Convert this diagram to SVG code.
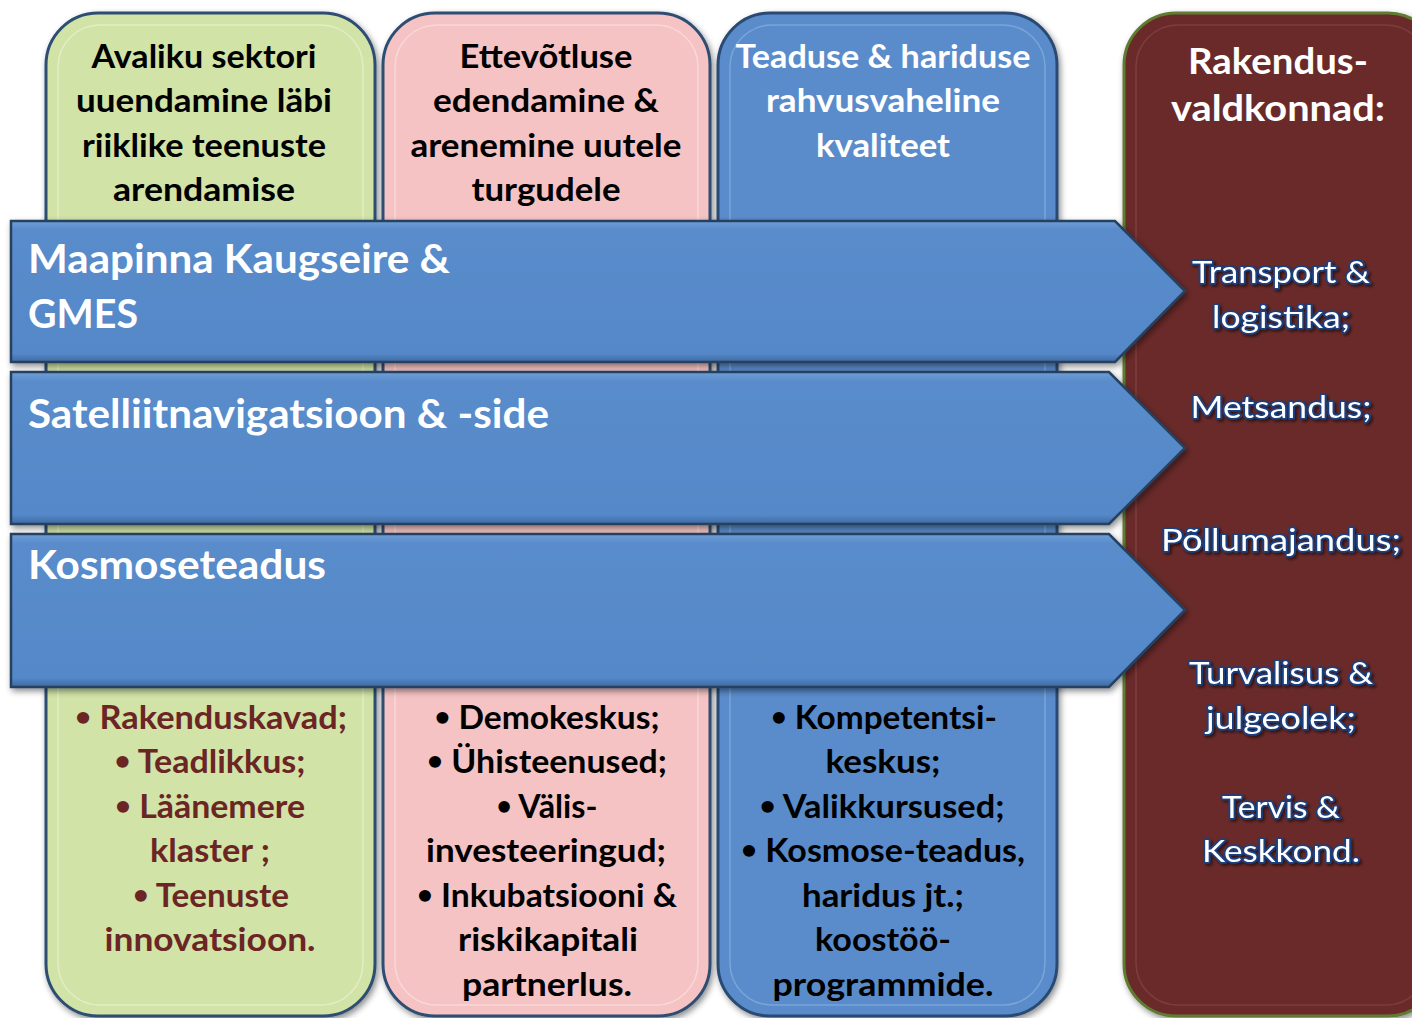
<svg xmlns="http://www.w3.org/2000/svg" width="1412" height="1018" viewBox="0 0 1412 1018">
<defs>
<filter id="sh" x="-5%" y="-5%" width="115%" height="115%">
<feDropShadow dx="2" dy="3" stdDeviation="3" flood-color="#000" flood-opacity="0.45"/>
</filter>
<filter id="tsh" x="-10%" y="-20%" width="130%" height="160%">
<feDropShadow dx="2" dy="2" stdDeviation="1.5" flood-color="#000" flood-opacity="0.55"/>
</filter>
<linearGradient id="arrowGrad" x1="0" y1="0" x2="0" y2="1">
<stop offset="0" stop-color="#6f9fd8"/>
<stop offset="0.06" stop-color="#5a8ccb"/>
<stop offset="0.94" stop-color="#5588c8"/>
<stop offset="1" stop-color="#3e6aa2"/>
</linearGradient>
</defs>
<style>
.col{stroke-width:3}
.inner{fill:none;stroke-width:1.5;opacity:0.6}
text{font-family:Lato,"Liberation Sans",sans-serif}
.t{font-weight:bold;text-anchor:middle}
.hd{font-size:32px}
.ls{font-size:32px}
.b{font-size:26px;baseline-shift:3px}
.ar{font-weight:bold;font-size:41px;fill:#fff}
.arrow{fill:url(#arrowGrad);stroke:#25405f;stroke-width:2.5}
.rl{font-size:31px;fill:#fff;stroke:#1d3f7c;stroke-width:3.5;paint-order:stroke;stroke-linejoin:round;text-anchor:middle}
</style>
<rect width="1412" height="1018" fill="#fff"/>

<g id="col-green" filter="url(#sh)">
<rect class="col" x="46" y="13" width="329" height="1003" rx="52" fill="#d1e3a6" stroke="#2e4d72"/>
<rect class="inner" x="58" y="25" width="305" height="980" rx="42" stroke="#eef5da"/>
</g>
<g id="col-pink" filter="url(#sh)">
<rect class="col" x="383" y="13" width="327" height="1003" rx="52" fill="#f5c3c3" stroke="#2e4d72"/>
<rect class="inner" x="395" y="25" width="303" height="980" rx="42" stroke="#fde6e6"/>
</g>
<g id="col-blue" filter="url(#sh)">
<rect class="col" x="718" y="13" width="339" height="1003" rx="52" fill="#5a8ccb" stroke="#2a4a73"/>
<rect class="inner" x="730" y="25" width="315" height="980" rx="42" stroke="#8fb5e3"/>
</g>
<g id="col-red" filter="url(#sh)">
<rect class="col" x="1124" y="13" width="316" height="1003" rx="52" fill="#6b2b2b" stroke="#5e7b30"/>
<rect class="inner" x="1136" y="25" width="292" height="980" rx="42" stroke="#8a4a4a"/>
</g>

<g id="arrow-1" filter="url(#sh)">
<polygon class="arrow" points="11,221 1115,221 1185,291 1115,362 11,362"/>
</g>
<g id="arrow-2" filter="url(#sh)">
<polygon class="arrow" points="11,372 1109,372 1185,448 1109,524 11,524"/>
</g>
<g id="arrow-3" filter="url(#sh)">
<polygon class="arrow" points="11,534 1109,534 1185,610 1109,687 11,687"/>
</g>
<g id="connectors"/>

<g id="head-green" class="t hd" fill="#000">
<text x="204" y="68" textLength="225" lengthAdjust="spacingAndGlyphs">Avaliku sektori</text>
<text x="204" y="112" textLength="256" lengthAdjust="spacingAndGlyphs">uuendamine läbi</text>
<text x="204" y="157" textLength="244" lengthAdjust="spacingAndGlyphs">riiklike teenuste</text>
<text x="204" y="201" textLength="182" lengthAdjust="spacingAndGlyphs">arendamise</text>
</g>
<g id="head-pink" class="t hd" fill="#000">
<text x="546" y="68" textLength="173" lengthAdjust="spacingAndGlyphs">Ettevõtluse</text>
<text x="546" y="112" textLength="226" lengthAdjust="spacingAndGlyphs">edendamine &amp;</text>
<text x="546" y="157" textLength="271" lengthAdjust="spacingAndGlyphs">arenemine uutele</text>
<text x="546" y="201" textLength="149" lengthAdjust="spacingAndGlyphs">turgudele</text>
</g>
<g id="head-blue" class="t hd" fill="#fff">
<text x="883" y="68" textLength="295" lengthAdjust="spacingAndGlyphs">Teaduse &amp; hariduse</text>
<text x="883" y="112" textLength="234" lengthAdjust="spacingAndGlyphs">rahvusvaheline</text>
<text x="883" y="157" textLength="134" lengthAdjust="spacingAndGlyphs">kvaliteet</text>
</g>
<g id="head-red" class="t" fill="#fff" font-size="36">
<text x="1278" y="74" textLength="180" lengthAdjust="spacingAndGlyphs">Rakendus-</text>
<text x="1278" y="121" textLength="214" lengthAdjust="spacingAndGlyphs">valdkonnad:</text>
</g>

<g id="label-arrow-1" class="ar">
<text x="28" y="273" textLength="422" lengthAdjust="spacingAndGlyphs">Maapinna Kaugseire &amp;</text>
<text x="28" y="328" textLength="110" lengthAdjust="spacingAndGlyphs">GMES</text>
</g>
<g id="label-arrow-2" class="ar">
<text x="28" y="428" textLength="521" lengthAdjust="spacingAndGlyphs">Satelliitnavigatsioon &amp; -side</text>
</g>
<g id="label-arrow-3" class="ar">
<text x="28" y="579" textLength="298" lengthAdjust="spacingAndGlyphs">Kosmoseteadus</text>
</g>

<g id="list-red" filter="url(#tsh)">
<text class="rl" x="1281" y="283" textLength="178" lengthAdjust="spacingAndGlyphs">Transport &amp;</text>
<text class="rl" x="1281" y="328" textLength="138" lengthAdjust="spacingAndGlyphs">logistika;</text>
<text class="rl" x="1281" y="418" textLength="181" lengthAdjust="spacingAndGlyphs">Metsandus;</text>
<text class="rl" x="1281" y="551" textLength="240" lengthAdjust="spacingAndGlyphs">Põllumajandus;</text>
<text class="rl" x="1281" y="684" textLength="184" lengthAdjust="spacingAndGlyphs">Turvalisus &amp;</text>
<text class="rl" x="1281" y="729" textLength="150" lengthAdjust="spacingAndGlyphs">julgeolek;</text>
<text class="rl" x="1281" y="818" textLength="118" lengthAdjust="spacingAndGlyphs">Tervis &amp;</text>
<text class="rl" x="1281" y="862" textLength="158" lengthAdjust="spacingAndGlyphs">Keskkond.</text>
</g>

<g id="list-green" class="t ls" fill="#6b2525">
<text x="211" y="729" textLength="272" lengthAdjust="spacingAndGlyphs"><tspan class="b">•</tspan> Rakenduskavad;</text>
<text x="210" y="773" textLength="191" lengthAdjust="spacingAndGlyphs"><tspan class="b">•</tspan> Teadlikkus;</text>
<text x="210" y="818" textLength="190" lengthAdjust="spacingAndGlyphs"><tspan class="b">•</tspan> Läänemere</text>
<text x="210" y="862" textLength="120" lengthAdjust="spacingAndGlyphs">klaster ;</text>
<text x="211" y="907" textLength="156" lengthAdjust="spacingAndGlyphs"><tspan class="b">•</tspan> Teenuste</text>
<text x="210" y="951" textLength="211" lengthAdjust="spacingAndGlyphs">innovatsioon.</text>
</g>
<g id="list-pink" class="t ls" fill="#000">
<text x="547" y="729" textLength="225" lengthAdjust="spacingAndGlyphs"><tspan class="b">•</tspan> Demokeskus;</text>
<text x="547" y="773" textLength="240" lengthAdjust="spacingAndGlyphs"><tspan class="b">•</tspan> Ühisteenused;</text>
<text x="547" y="818" textLength="101" lengthAdjust="spacingAndGlyphs"><tspan class="b">•</tspan> Välis-</text>
<text x="546" y="862" textLength="240" lengthAdjust="spacingAndGlyphs">investeeringud;</text>
<text x="547" y="907" textLength="260" lengthAdjust="spacingAndGlyphs"><tspan class="b">•</tspan> Inkubatsiooni &amp;</text>
<text x="548" y="951" textLength="180" lengthAdjust="spacingAndGlyphs">riskikapitali</text>
<text x="547" y="996" textLength="170" lengthAdjust="spacingAndGlyphs">partnerlus.</text>
</g>
<g id="list-blue" class="t ls" fill="#000">
<text x="884" y="729" textLength="226" lengthAdjust="spacingAndGlyphs"><tspan class="b">•</tspan> Kompetentsi-</text>
<text x="883" y="773" textLength="115" lengthAdjust="spacingAndGlyphs">keskus;</text>
<text x="882" y="818" textLength="245" lengthAdjust="spacingAndGlyphs"><tspan class="b">•</tspan> Valikkursused;</text>
<text x="883" y="862" textLength="284" lengthAdjust="spacingAndGlyphs"><tspan class="b">•</tspan> Kosmose-teadus,</text>
<text x="883" y="907" textLength="162" lengthAdjust="spacingAndGlyphs">haridus jt.;</text>
<text x="883" y="951" textLength="136" lengthAdjust="spacingAndGlyphs">koostöö-</text>
<text x="883" y="996" textLength="221" lengthAdjust="spacingAndGlyphs">programmide.</text>
</g>
</svg>
